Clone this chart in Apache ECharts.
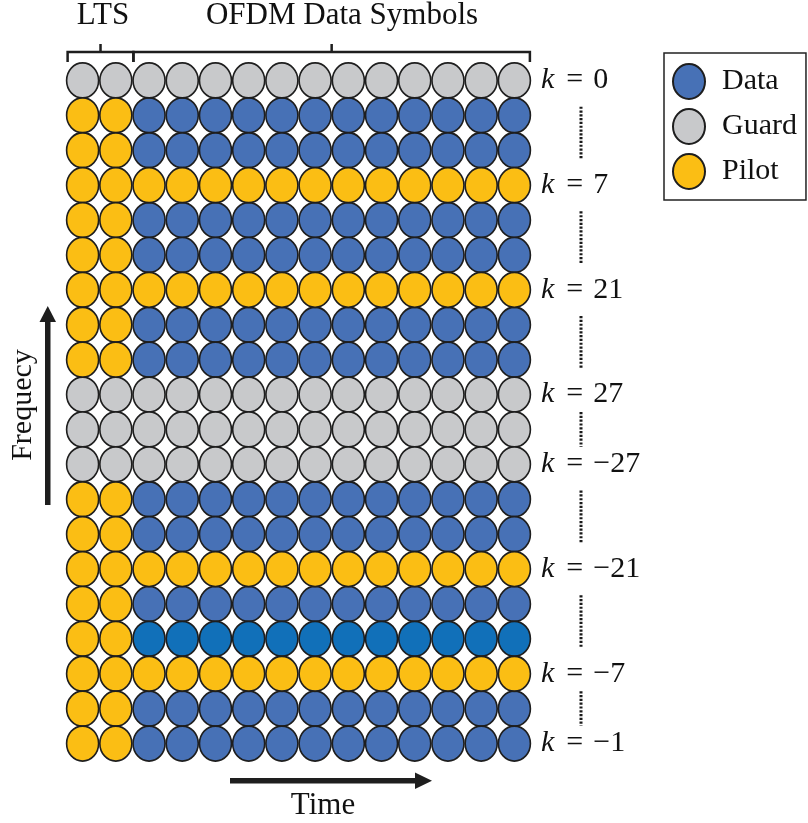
<!DOCTYPE html>
<html>
<head>
<meta charset="utf-8">
<script src="https://cdn.jsdelivr.net/npm/echarts@6/dist/echarts.min.js"></script>
<style>
html,body{margin:0;padding:0;background:#fff;}
#chart{width:808px;height:823px;}
</style>
</head>
<body>
<div id="chart"></div>
<script>
// ---- data ----
const timeSlots = ['LTS 1','LTS 2','Sym 1','Sym 2','Sym 3','Sym 4','Sym 5','Sym 6','Sym 7','Sym 8','Sym 9','Sym 10','Sym 11','Sym 12'];
const ltsCount = 2;
// subcarrier rows from top to bottom
const rowTypes = ['guard','data','data','pilot','data','data','pilot','data','data','guard','guard','guard','data','data','pilot','data','highlight','pilot','data','data'];
const rowLabels = ['0','','','7','','','21','','','27','','\u221227','','','\u221221','','','\u22127','','\u22121'];
const legendNames = ['Data','Guard','Pilot'];

const COLORS = { Data:'#4771b6', Guard:'#c8c9cb', Pilot:'#fbbe14', highlight:'#1170b9' };
const SERIF = '"Liberation Serif","DejaVu Serif",serif';
const ELLIPSE = 'path://M0,17.5 A16,17.5 0 1,1 32,17.5 A16,17.5 0 1,1 0,17.5 Z';

const pts = { Data:[], Guard:[], Pilot:[] };
rowTypes.forEach((t, r) => {
  timeSlots.forEach((s, c) => {
    if (t === 'guard') pts.Guard.push([c, r]);
    else if (c < ltsCount || t === 'pilot') pts.Pilot.push([c, r]);
    else if (t === 'highlight') pts.Data.push({ value:[c, r], itemStyle:{ color: COLORS.highlight } });
    else pts.Data.push([c, r]);
  });
});

const chart = echarts.init(document.getElementById('chart'), null, { renderer:'canvas' });

const option = {
  animation:false,
  backgroundColor:'#fff',
  grid:{ left:66, top:63, width:465, height:698 },
  xAxis:{ type:'category', data:timeSlots, show:false, boundaryGap:true },
  yAxis:{
    type:'category', data:rowTypes.map((_, i) => i), inverse:true, position:'right',
    axisLine:{show:false}, axisTick:{show:false}, splitLine:{show:false},
    axisLabel:{
      interval:0, margin:10, align:'left',
      formatter:(v, i) => rowLabels[i] ? '{k|k}{eq|=}{n|' + rowLabels[i] + '}' : '',
      rich:{
        k:{ fontFamily:SERIF, fontStyle:'italic', fontSize:30, color:'#111' },
        eq:{ fontFamily:SERIF, fontSize:30, color:'#111', padding:[0,10,0,12] },
        n:{ fontFamily:SERIF, fontSize:30, color:'#111' }
      }
    }
  },
  legend:{
    data:legendNames, orient:'vertical', left:664, top:53,
    padding:[10,9,10,8], borderColor:'#222', borderWidth:1.5,
    itemWidth:32, itemHeight:35, itemGap:8, icon:ELLIPSE, selectedMode:false,
    textStyle:{ fontFamily:SERIF, fontSize:30, color:'#111', padding:[0,0,0,12], lineHeight:35 }
  },
  series: legendNames.map(n => ({
    name:n, type:'scatter', data:pts[n], symbol:ELLIPSE, symbolSize:[32,35],
    itemStyle:{ color:COLORS[n], borderColor:'#1e1e1e', borderWidth:1.7, opacity:1 },
    emphasis:{ disabled:true }
  }))
};
chart.setOption(option);

// ---- annotations placed from the axis scales ----
const px = (c, r) => chart.convertToPixel({ xAxisIndex:0, yAxisIndex:0 }, [c, r]);
const g = [];
const lineStyle = { stroke:'#1e1e1e', lineWidth:2.5, fill:null };

// dotted connectors between labelled rows
const labelled = rowLabels.map((l, i) => l ? i : -1).filter(i => i >= 0);
const dotX = Math.round(px(timeSlots.length - 1, 0)[0] + 67);
for (let i = 0; i < labelled.length - 1; i++) {
  const y1 = px(0, labelled[i])[1], y2 = px(0, labelled[i + 1])[1];
  const mid = (y1 + y2) / 2, half = (y2 - y1) / 4;
  g.push({ type:'line', shape:{ x1:dotX, y1:mid - half, x2:dotX, y2:mid + half },
    style:{ stroke:'#1a1a1a', lineWidth:3, lineDash:[2.2,1.6] }, silent:true });
}

// braces above the grid
const c0 = px(0, 0)[0], c1 = px(ltsCount - 1, 0)[0], c2 = px(ltsCount, 0)[0], cN = px(timeSlots.length - 1, 0)[0];
const bl = c0 - 15, bm = (c1 + c2) / 2 + 1, br = cN + 15.5;
const by = 52, bDown = 62, bUp = 44;
function brace(a, b) {
  g.push({ type:'polyline', shape:{ points:[[a, bDown],[a, by],[b, by],[b, bDown]] }, style:lineStyle, silent:true });
  const m = (a + b) / 2;
  g.push({ type:'line', shape:{ x1:m, y1:by, x2:m, y2:bUp }, style:lineStyle, silent:true });
}
brace(bl, bm);
brace(bm, br);
g.push({ type:'text', x:103, y:16, style:{ text:'LTS', font:'31px ' + SERIF, fill:'#111', align:'center', verticalAlign:'middle' }, silent:true });
g.push({ type:'text', x:342, y:16, style:{ text:'OFDM Data Symbols', font:'31px ' + SERIF, fill:'#111', align:'center', verticalAlign:'middle' }, silent:true });

// Frequency arrow (vertical)
g.push({ type:'rect', shape:{ x:45, y:320, width:5.5, height:185 }, style:{ fill:'#1e1e1e' }, silent:true });
g.push({ type:'polygon', shape:{ points:[[47.75,306],[39.5,322],[56,322]] }, style:{ fill:'#1e1e1e' }, silent:true });
g.push({ type:'text', x:23, y:405, rotation:Math.PI/2, style:{ text:'Frequecy', font:'30px ' + SERIF, fill:'#111', align:'center', verticalAlign:'middle' }, silent:true });

// Time arrow (horizontal)
g.push({ type:'rect', shape:{ x:230, y:778, width:188, height:5.5 }, style:{ fill:'#1e1e1e' }, silent:true });
g.push({ type:'polygon', shape:{ points:[[432,780.75],[415,772.5],[415,789]] }, style:{ fill:'#1e1e1e' }, silent:true });
g.push({ type:'text', x:323, y:806, style:{ text:'Time', font:'31px ' + SERIF, fill:'#111', align:'center', verticalAlign:'middle' }, silent:true });

chart.setOption({ graphic:{ elements:g } });
</script>
</body>
</html>
